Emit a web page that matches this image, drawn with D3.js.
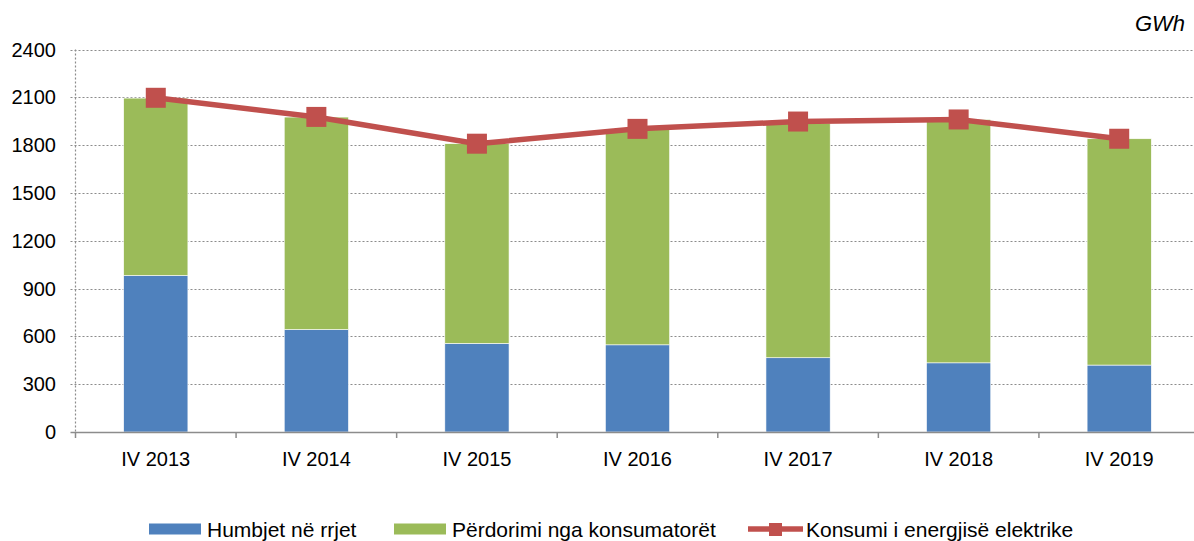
<!DOCTYPE html>
<html>
<head>
<meta charset="utf-8">
<script src="https://cdn.jsdelivr.net/npm/d3@7"></script>
<style>
  body { margin: 0; background: #fff; }
  svg { font-family: "Liberation Sans", Arial, sans-serif; }
</style>
</head>
<body>
<svg id="chart" width="1194" height="541"></svg>
<script>
const categories = ["IV 2013", "IV 2014", "IV 2015", "IV 2016", "IV 2017", "IV 2018", "IV 2019"];
const losses = [982, 643, 556, 547, 466, 434, 420];
const usage = [1113, 1333, 1253, 1353, 1472, 1527, 1420];
const consumption = [2097, 1977, 1809, 1902, 1948, 1961, 1840];
const yTicks = [0, 300, 600, 900, 1200, 1500, 1800, 2100, 2400];

const svg = d3.select("#chart");
const plotLeft = 75.5, plotRight = 1199.5, plotTop = 49.5, plotBottom = 432;

const x = d3.scaleBand().domain(categories).range([plotLeft, plotRight]).paddingInner(0.6).paddingOuter(0.3);
const xb = d3.scaleBand().domain(categories).range([plotLeft, plotRight]);
const y = d3.scaleLinear().domain([0, 2400]).range([plotBottom, plotTop]);

// gridlines
svg.append("g").selectAll("line")
    .data(yTicks.filter(d => d > 0))
    .join("line")
    .attr("x1", plotLeft - 5).attr("x2", plotRight)
    .attr("y1", d => Math.round(y(d)) + 0.5).attr("y2", d => Math.round(y(d)) + 0.5)
    .attr("stroke", "#8c8c8c").attr("stroke-width", 1.2)
    .attr("stroke-dasharray", "2,2");

// y axis dotted line
svg.append("line")
    .attr("x1", plotLeft).attr("x2", plotLeft).attr("y1", plotTop).attr("y2", plotBottom)
    .attr("stroke", "#8c8c8c").attr("stroke-width", 1.2).attr("stroke-dasharray", "2,2");

// y labels
svg.append("g").selectAll("text")
    .data(yTicks)
    .join("text")
    .attr("x", 56).attr("y", d => y(d) + 7)
    .attr("text-anchor", "end")
    .attr("font-size", 20).attr("fill", "#000")
    .text(d => d);

// stacked bars
const stackData = categories.map((c, i) => ({ cat: c, losses: losses[i], usage: usage[i] }));
const series = d3.stack().keys(["losses", "usage"])(stackData);
const colors = { losses: "#4F81BD", usage: "#9BBB59" };

svg.append("g").selectAll("g")
    .data(series)
    .join("g")
    .attr("fill", d => colors[d.key])
  .selectAll("rect")
    .data(d => d)
    .join("rect")
    .attr("x", d => x(d.data.cat))
    .attr("width", x.bandwidth())
    .attr("y", d => y(d[1]))
    .attr("height", d => y(d[0]) - y(d[1]))
    .attr("stroke", "#ffffff").attr("stroke-width", 0.6);

// x axis
svg.append("line")
    .attr("x1", plotLeft - 5).attr("x2", plotRight).attr("y1", plotBottom + 0.5).attr("y2", plotBottom + 0.5)
    .attr("stroke", "#8c8c8c").attr("stroke-width", 1.5);
svg.append("g").selectAll("line")
    .data(categories)
    .join("line")
    .attr("x1", d => xb(d)).attr("x2", d => xb(d))
    .attr("y1", plotBottom).attr("y2", plotBottom + 6)
    .attr("stroke", "#8c8c8c").attr("stroke-width", 1.5);

svg.append("g").selectAll("text")
    .data(categories)
    .join("text")
    .attr("x", d => x(d) + x.bandwidth() / 2)
    .attr("y", 466)
    .attr("text-anchor", "middle")
    .attr("font-size", 20).attr("fill", "#000")
    .text(d => d);

// line
const cx = (d, i) => x(categories[i]) + x.bandwidth() / 2;
svg.append("path")
    .datum(consumption)
    .attr("d", d3.line().x(cx).y(d => y(d)))
    .attr("fill", "none").attr("stroke", "#C0504D").attr("stroke-width", 5.5);

svg.append("g").selectAll("rect")
    .data(consumption)
    .join("rect")
    .attr("x", (d, i) => cx(d, i) - 10)
    .attr("y", d => y(d) - 10)
    .attr("width", 20).attr("height", 20)
    .attr("fill", "#C0504D");

// unit
svg.append("text")
    .attr("x", 1185).attr("y", 31)
    .attr("text-anchor", "end")
    .attr("font-size", 22).attr("font-style", "italic")
    .text("GWh");

// legend
const lg = svg.append("g");
lg.append("rect").attr("x", 149).attr("y", 523.5).attr("width", 52).attr("height", 11).attr("fill", "#4F81BD");
lg.append("text").attr("x", 207).attr("y", 536.5).attr("font-size", 21).text("Humbjet në rrjet");
lg.append("rect").attr("x", 394).attr("y", 523.5).attr("width", 52).attr("height", 11).attr("fill", "#9BBB59");
lg.append("text").attr("x", 452).attr("y", 536.5).attr("font-size", 21).text("Përdorimi nga konsumatorët");
lg.append("line").attr("x1", 748).attr("x2", 803).attr("y1", 529).attr("y2", 529)
    .attr("stroke", "#C0504D").attr("stroke-width", 5.5);
lg.append("rect").attr("x", 769).attr("y", 523).attr("width", 13).attr("height", 13).attr("fill", "#C0504D");
lg.append("text").attr("x", 806).attr("y", 536.5).attr("font-size", 21).text("Konsumi i energjisë elektrike");
</script>
</body>
</html>
